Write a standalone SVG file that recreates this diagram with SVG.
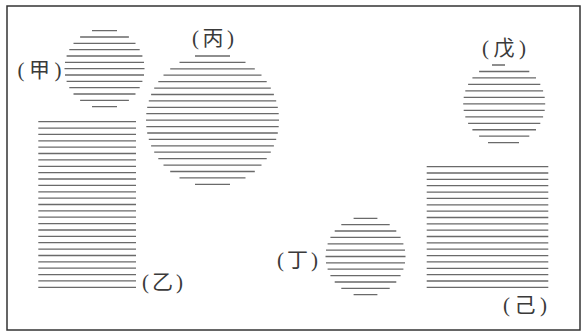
<svg xmlns="http://www.w3.org/2000/svg" width="581" height="331" viewBox="0 0 581 331">
<style>
.h{fill:none;stroke:#6a6a6a;stroke-width:1.3}
.lbl{font-family:"Liberation Serif","Noto Sans CJK SC",serif;font-size:21px;fill:#3a3a3a;text-anchor:middle}
</style>
<rect x="0" y="0" width="581" height="331" fill="#fff"/>
<rect x="7" y="6" width="573" height="324" fill="none" stroke="#333" stroke-width="1.5"/>
<g id="jia">
<path class="h" d="M92 30.7H117M80.1 37H128.9M73.5 43.4H135.5M69.3 49.7H139.7M66.6 56H142.4M65 62.4H144M64.5 68.7H144.5M65 75H144M66.6 81.4H142.4M69.3 87.7H139.7M73.5 94H135.5M80.1 100.4H128.9M92 106.7H117"/>
<text class="lbl" x="39.5" y="77" textLength="44" lengthAdjust="spacing">(甲)</text>
</g>
<g id="bing">
<path class="h" d="M195 56H230M179.5 62.4H245.5M170.2 68.8H254.8M163.5 75.2H261.5M158.3 81.7H266.7M154.2 88.1H270.8M151.1 94.5H273.9M148.8 100.9H276.2M147.2 107.3H277.8M146.3 113.7H278.7M146 120.15H279M146.3 126.6H278.7M147.2 133H277.8M148.8 139.4H276.2M151.1 145.8H273.9M154.2 152.2H270.8M158.3 158.6H266.7M163.5 165.1H261.5M170.2 171.5H254.8M179.5 177.9H245.5M195 184.3H230"/>
<text class="lbl" x="213" y="45" textLength="42" lengthAdjust="spacing">(丙)</text>
</g>
<g id="yi">
<path class="h" d="M38.3 121.7H136M38.3 128.1H136M38.3 134.4H136M38.3 140.8H136M38.3 147.2H136M38.3 153.5H136M38.3 159.9H136M38.3 166.3H136M38.3 172.7H136M38.3 179H136M38.3 185.4H136M38.3 191.8H136M38.3 198.1H136M38.3 204.5H136M38.3 210.9H136M38.3 217.2H136M38.3 223.6H136M38.3 230H136M38.3 236.3H136M38.3 242.7H136M38.3 249.1H136M38.3 255.5H136M38.3 261.8H136M38.3 268.2H136M38.3 274.6H136M38.3 280.9H136M38.3 287.3H136"/>
<text class="lbl" x="162.5" y="289" textLength="41" lengthAdjust="spacing">(乙)</text>
</g>
<g id="ding">
<path class="h" d="M353.6 218.3H377.4M341.3 224.7H389.7M334.7 231H396.3M330.4 237.4H400.6M327.6 243.8H403.4M326 250.1H405M325.5 256.5H405.5M326 262.9H405M327.6 269.2H403.4M330.4 275.6H400.6M334.7 282H396.3M341.3 288.3H389.7M353.6 294.7H377.4"/>
<text class="lbl" x="297.5" y="266.5" textLength="41" lengthAdjust="spacing">(丁)</text>
</g>
<g id="wu">
<path class="h" d="M492 65H505M479.1 71.5H529.3M472.4 77.95H536M468.1 84.4H540.3M465.3 90.9H543.1M463.7 97.4H544.7M463.2 103.85H545.2M463.7 110.3H544.7M465.3 116.8H543.1M468.1 123.3H540.3M472.4 129.75H536M479.1 136.2H529.3M488 142.7H519"/>
<text class="lbl" x="504" y="55" textLength="44" lengthAdjust="spacing">(戊)</text>
</g>
<g id="ji">
<path class="h" d="M426.7 166.7H548.3M426.7 173H548.3M426.7 179.4H548.3M426.7 185.7H548.3M426.7 192.1H548.3M426.7 198.4H548.3M426.7 204.8H548.3M426.7 211.1H548.3M426.7 217.5H548.3M426.7 223.8H548.3M426.7 230.2H548.3M426.7 236.5H548.3M426.7 242.9H548.3M426.7 249.2H548.3M426.7 255.6H548.3M426.7 261.9H548.3M426.7 268.3H548.3M426.7 274.6H548.3M426.7 281H548.3M426.7 287.3H548.3"/>
<text class="lbl" x="525" y="311.5" textLength="44" lengthAdjust="spacing">(己)</text>
</g>
</svg>
